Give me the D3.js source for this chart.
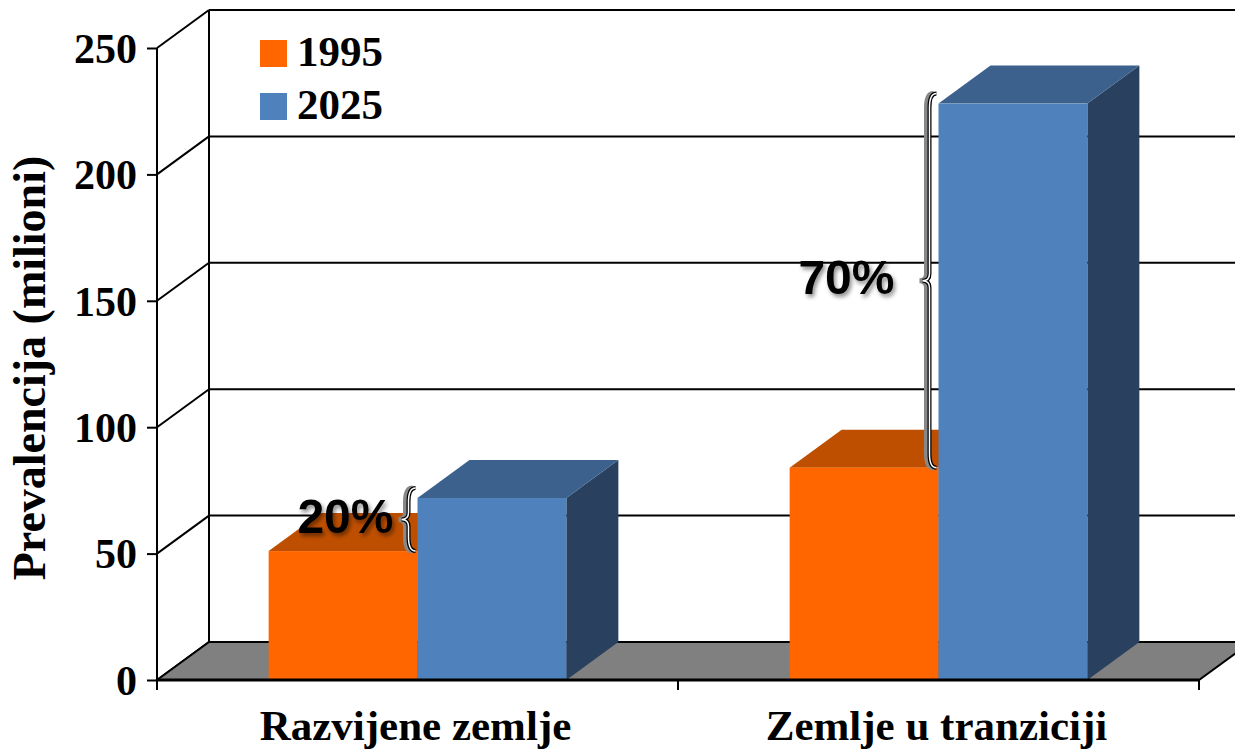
<!DOCTYPE html>
<html>
<head>
<meta charset="utf-8">
<script src="https://cdn.jsdelivr.net/npm/d3@7"></script>
<style>
body{margin:0;background:#fff;}
svg{display:block;}
</style>
</head>
<body>
<div id="chart"></div>
<script>
// chart data
var categories = ["Razvijene zemlje", "Zemlje u tranziciji"];
var series = ["1995", "2025"];
var values1995 = [51, 84];
var values2025 = [72, 228];
var yTicks = [0, 50, 100, 150, 200, 250];
var notes = ["20%", "70%"];

var W = 1235, H = 750;
var dx = 52, dy = -38; // depth offset of the 3d box

var svg = d3.select("#chart").append("svg")
.attr("width", W).attr("height", H);

var defs = svg.append("defs");
var sh = defs.append("filter").attr("id", "shadow")
.attr("x", "-20%").attr("y", "-20%").attr("width", "140%").attr("height", "140%");
sh.append("feDropShadow").attr("dx", 2).attr("dy", 3).attr("stdDeviation", 2)
.attr("flood-color", "#000").attr("flood-opacity", 0.45);

var y = d3.scaleLinear().domain([0, 250]).range([680, 48]);
var x0 = d3.scaleBand().domain(categories).range([157, 1199]);
var x1 = d3.scaleBand().domain(series).range([0, x0.bandwidth()]).paddingInner(0).paddingOuter(0.75);

var colors = {
  "1995": {front: "#FF6600", top: "#BF4F00", side: "#A04300"},
  "2025": {front: "#4F81BD", top: "#3C618D", side: "#29415F"}
};

// walls
var wall = svg.append("g").attr("stroke", "#000").attr("stroke-width", 2).attr("fill", "none");
yTicks.forEach(function(t){
  if (t > 0) {
    wall.append("line").attr("x1", 157 + dx).attr("x2", W + 20)
    .attr("y1", y(t) + dy).attr("y2", y(t) + dy);
  }
  wall.append("line").attr("x1", 157).attr("x2", 157 + dx)
  .attr("y1", y(t)).attr("y2", y(t) + dy);
});
wall.append("line").attr("x1", 157 + dx).attr("x2", 157 + dx)
.attr("y1", y(250) + dy).attr("y2", y(0) + dy);

// floor
svg.append("polygon")
.attr("points", [[157, y(0)], [157 + dx, y(0) + dy], [1199 + dx, y(0) + dy], [1199, y(0)]].join(" "))
.attr("fill", "#808080").attr("stroke", "#000").attr("stroke-width", 2);

// bars
var rows = [];
categories.forEach(function(c, i){
  rows.push({cat: c, s: "1995", v: values1995[i]});
  rows.push({cat: c, s: "2025", v: values2025[i]});
});

var bar = svg.selectAll("g.bar").data(rows).enter().append("g").attr("class", "bar");
bar.each(function(d){
  var g = d3.select(this);
  var xa = x0(d.cat) + x1(d.s), xb = xa + x1.bandwidth();
  var yt = y(d.v), yb = y(0);
  g.append("polygon")
  .attr("points", [[xb, yt], [xb + dx, yt + dy], [xb + dx, yb + dy], [xb, yb]].join(" "))
  .attr("fill", colors[d.s].side);
  g.append("polygon")
  .attr("points", [[xa, yt], [xa + dx, yt + dy], [xb + dx, yt + dy], [xb, yt]].join(" "))
  .attr("fill", colors[d.s].top);
  g.append("rect").attr("x", xa).attr("y", yt).attr("width", xb - xa).attr("height", yb - yt)
  .attr("fill", colors[d.s].front);
});

// axes
var yAxis = svg.append("g").attr("transform", "translate(157,0)")
.call(d3.axisLeft(y).tickValues(yTicks).tickSize(10).tickPadding(10));
yAxis.select(".domain").attr("d", "M0," + y(250) + "V690").attr("stroke-width", 2);
yAxis.selectAll(".tick line").attr("stroke-width", 2);
yAxis.selectAll("text").attr("font-family", "Liberation Serif, serif")
.attr("font-weight", "bold").attr("font-size", 42).attr("fill", "#000").attr("dy", "0.34em");

var xEdges = [157, 157 + x0.step(), 1199];
svg.append("line").attr("x1", 157).attr("x2", 1199).attr("y1", y(0)).attr("y2", y(0))
.attr("stroke", "#000").attr("stroke-width", 3);
svg.selectAll("line.xt").data(xEdges).enter().append("line").attr("class", "xt")
.attr("x1", d => d).attr("x2", d => d).attr("y1", y(0)).attr("y2", y(0) + 10)
.attr("stroke", "#000").attr("stroke-width", 2);

svg.selectAll("text.cat").data(categories).enter().append("text").attr("class", "cat")
.attr("x", d => x0(d) + x0.bandwidth() / 2 - 2).attr("y", 740)
.attr("text-anchor", "middle").attr("font-family", "Liberation Serif, serif")
.attr("font-weight", "bold").attr("font-size", 43).text(d => d);

svg.append("text").attr("transform", "translate(45,368) rotate(-90)")
.attr("text-anchor", "middle").attr("font-family", "Liberation Serif, serif")
.attr("font-weight", "bold").attr("font-size", 46).text("Prevalencija (milioni)");

// legend
var leg = svg.selectAll("g.leg").data(series).enter().append("g").attr("class", "leg")
.attr("transform", (d, i) => "translate(260," + (40 + i * 53) + ")");
leg.append("rect").attr("width", 27).attr("height", 27).attr("fill", d => colors[d].front);
leg.append("text").attr("x", 37).attr("y", 26).attr("font-family", "Liberation Serif, serif")
.attr("font-weight", "bold").attr("font-size", 43).text(d => d);

// braces with percentage notes
function brace(xr, ytop, ybot, w) {
  var ym = (ytop + ybot) / 2, xm = xr - w / 2, xl = xr - w;
  return "M" + xr + "," + ytop + " Q" + xm + "," + ytop + " " + xm + "," + (ytop + w) +
  " L" + xm + "," + (ym - w / 2) + " Q" + xm + "," + ym + " " + xl + "," + ym +
  " Q" + xm + "," + ym + " " + xm + "," + (ym + w / 2) +
  " L" + xm + "," + (ybot - w) + " Q" + xm + "," + ybot + " " + xr + "," + ybot;
}
var ann = svg.selectAll("g.ann").data(categories).enter().append("g").attr("class", "ann");
ann.each(function(d, i){
  var g = d3.select(this);
  var xr = x0(d) + x1("2025") - 2;
  var top = y(values2025[i]) - 10, bot = y(values1995[i]);
  var p = brace(xr, top, bot, 14);
  g.append("path").attr("d", p).attr("fill", "none").attr("stroke", "#888").attr("stroke-width", 5)
  .attr("transform", "translate(-3,0)");
  g.append("path").attr("d", p).attr("fill", "none").attr("stroke", "#000").attr("stroke-width", 4);
  g.append("path").attr("d", p).attr("fill", "none").attr("stroke", "#fff").attr("stroke-width", 1.5);
  // the long brace has its note set further left
  var gap = i === 0 ? 22 : 42;
  g.append("text").attr("x", xr - gap).attr("y", (top + bot) / 2 + 13)
  .attr("text-anchor", "end").attr("font-family", "Liberation Sans, Arial, sans-serif")
  .attr("font-weight", "bold").attr("font-size", 48).attr("filter", "url(#shadow)")
  .text(notes[i]);
});
</script>
</body>
</html>
